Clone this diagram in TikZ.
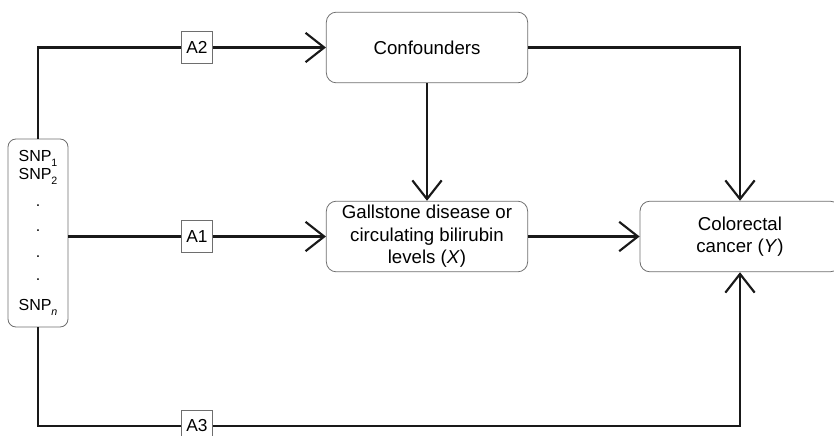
\documentclass[tikz,border=0pt]{standalone}
\usepackage{fontspec}
\setmainfont{Liberation Sans}
\usetikzlibrary{arrows.meta}

\definecolor{boxgray}{RGB}{110,110,110}
\newcommand{\snpsub}[1]{\raisebox{-3.5pt}{\fontsize{8}{8}\selectfont #1}}

\tikzset{
  box/.style={draw=boxgray, line width=0.6pt, rounded corners=7.5pt, align=center, inner sep=0pt, font=\fontsize{14}{16.8}\selectfont},
  tag/.style={draw=boxgray, line width=0.6pt, fill=white, minimum width=23pt, minimum height=23.5pt, inner sep=0pt, font=\fontsize{13}{15}\selectfont},
  link/.style={line width=1.6pt, draw={rgb,255:red,25;green,25;blue,25}},
  arr/.style={link, -{Straight Barb[length=14pt,width=22pt]}}
}

\begin{document}
\begin{tikzpicture}[x=0.75pt,y=0.75pt,yscale=-1,xscale=1]
\useasboundingbox (0,0) rectangle (834,435);

% Boxes
\node [box, minimum width=45pt, minimum height=141pt, rounded corners=6pt, font=\fontsize{12}{13.5}\selectfont] (snp) at (38,233)
  {SNP\snpsub{1}\\SNP\snpsub{2}\\[6.5pt].\\[5.5pt].\\[5.5pt].\\[4pt].\\[9pt]SNP\snpsub{\textit{n}}};
\node [box, minimum width=151pt, minimum height=53pt] (conf) at (427,47.5) {Confounders};
\node [box, minimum width=151pt, minimum height=53pt] (gall) at (427,236.5) {Gallstone disease or\\circulating bilirubin\\levels (\textit{X})};
\node [box, minimum width=150pt, minimum height=53pt] (crc) at (740,236.5) {Colorectal\\cancer (\textit{Y})};

% Instrument labels
\node [tag] (a2) at (197,47.5) {A2};
\node [tag] (a1) at (197,236.5) {A1};
\node [tag] (a3) at (197,426) {A3};

% Paths
\draw [link] (snp.north) |- (a2.west);
\draw [arr] (a2.east) -- (conf.west);
\draw [link] (snp.east |- a1.west) -- (a1.west);
\draw [arr] (a1.east) -- (gall.west);
\draw [link] (snp.south) |- (a3.west);
\draw [arr] (a3.east) -| (crc.south);
\draw [arr] (conf.south) -- (gall.north);
\draw [arr] (conf.east) -| (crc.north);
\draw [arr] (gall.east) -- (crc.west);

\end{tikzpicture}
\end{document}
